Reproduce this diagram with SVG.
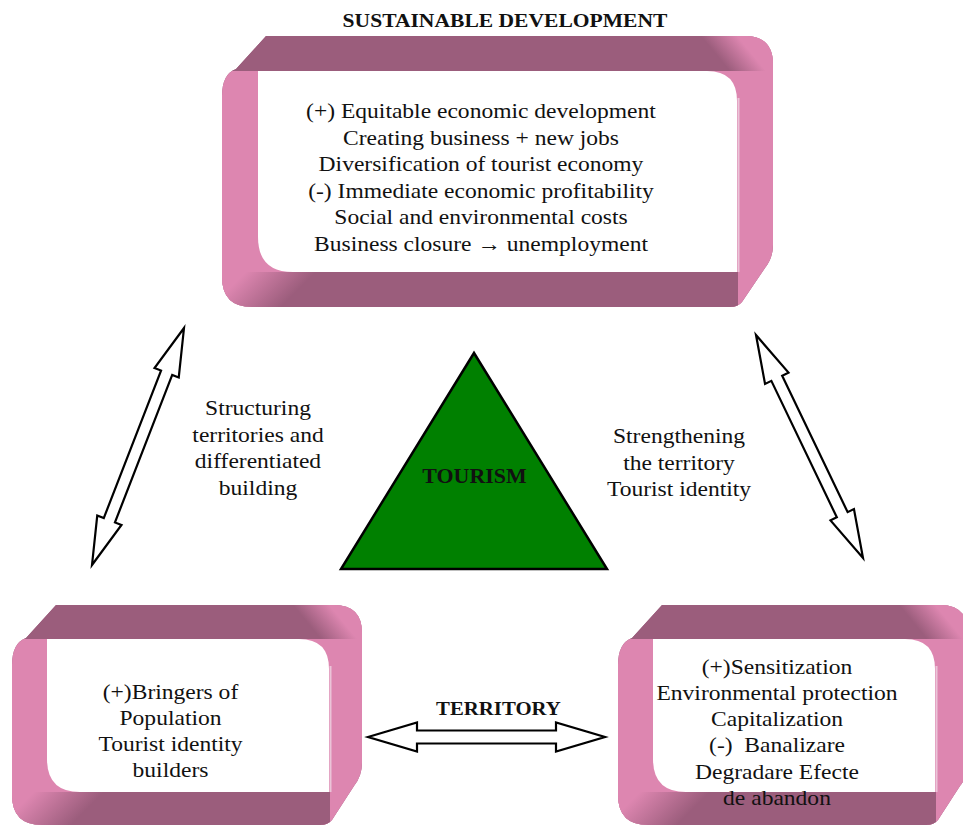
<svg xmlns="http://www.w3.org/2000/svg" width="963" height="826" viewBox="0 0 963 826">
<style>
.dark{fill:#9B5D7C}
.pink{fill:#DD86B0}
.white{fill:#FFFFFF}
.rim{stroke:#EBC4D8;stroke-width:2;fill:none}
.txt{font-family:"Liberation Serif","Times New Roman",serif;font-size:21.5px;fill:#111;text-anchor:middle}
.bold{font-weight:bold}
.arrow{fill:#FFFFFF;stroke:#000;stroke-width:2.2;stroke-linejoin:miter}
</style>
<defs>
<clipPath id="clipTop"><path d="M266,36 L745,36 Q773,36 773,64 L773,245 Q773,258 765,268 L742,302 Q738,307 730,307 L252,307 Q222,307 222,277 L222,96 Q222,74 236,69 Z"/></clipPath>
<clipPath id="clipBL"><path d="M56,605 L334,605 Q362,605 362,633 L362,763 Q362,776 354,786 L332,820 Q328,825 320,825 L42,825 Q12,825 12,795 L12,665 Q12,643 26,638 Z"/></clipPath>
<clipPath id="clipBR"><path d="M662,605 L940,605 Q968,605 968,633 L968,763 Q968,776 960,786 L938,820 Q934,825 926,825 L648,825 Q618,825 618,795 L618,665 Q618,643 632,638 Z"/></clipPath>
<linearGradient id="gtTop" gradientUnits="userSpaceOnUse" x1="722.65" y1="62.4" x2="744.35" y2="44.6"><stop offset="0" stop-color="#9B5D7C"/><stop offset="1" stop-color="#DD86B0"/></linearGradient>
<linearGradient id="gbTop" gradientUnits="userSpaceOnUse" x1="245" y1="273" x2="280" y2="308"><stop offset="0" stop-color="#DD86B0"/><stop offset="1" stop-color="#9B5D7C"/></linearGradient>
<linearGradient id="gtBL" gradientUnits="userSpaceOnUse" x1="314.65" y1="631.4" x2="336.35" y2="613.6"><stop offset="0" stop-color="#9B5D7C"/><stop offset="1" stop-color="#DD86B0"/></linearGradient>
<linearGradient id="gbBL" gradientUnits="userSpaceOnUse" x1="35" y1="791" x2="70" y2="826"><stop offset="0" stop-color="#DD86B0"/><stop offset="1" stop-color="#9B5D7C"/></linearGradient>
<linearGradient id="gtBR" gradientUnits="userSpaceOnUse" x1="920.65" y1="631.4" x2="942.35" y2="613.6"><stop offset="0" stop-color="#9B5D7C"/><stop offset="1" stop-color="#DD86B0"/></linearGradient>
<linearGradient id="gbBR" gradientUnits="userSpaceOnUse" x1="641" y1="791" x2="676" y2="826"><stop offset="0" stop-color="#DD86B0"/><stop offset="1" stop-color="#9B5D7C"/></linearGradient>
</defs>
<rect x="0" y="0" width="963" height="826" fill="#FFFFFF"/>

<g id="connectors">
<polygon id="arrow-left" class="arrow" points="184,328 178.75,377.45 172.22,374.92 114.96,522.42 121.49,524.95 92,565 97.25,515.55 103.78,518.08 161.04,370.58 154.51,368.05"/>
<polygon id="arrow-right" class="arrow" points="756,335 788.49,372.65 782.18,375.68 847.64,512.12 853.95,509.09 863,558 830.51,520.35 836.82,517.32 771.36,380.88 765.05,383.91"/>
<polygon id="arrow-bottom" class="arrow" points="368,737 417,722.5 417,730.5 556,730.5 556,722.5 605,737 556,751.5 556,743.5 417,743.5 417,751.5"/>
<g transform="scale(1.095 1)">
<text class="txt" x="235.62" y="415">Structuring</text>
<text class="txt" x="235.62" y="442">territories and</text>
<text class="txt" x="235.62" y="468">differentiated</text>
<text class="txt" x="235.62" y="495">building</text>
<text class="txt" x="620.09" y="443">Strengthening</text>
<text class="txt" x="620.09" y="470">the territory</text>
<text class="txt" x="620.09" y="496">Tourist identity</text>
<text class="txt bold" x="455.25" y="715" style="font-size:19px">TERRITORY</text>
</g>
</g>

<g id="node-sustainable">
<g clip-path="url(#clipTop)">
<rect class="dark" x="222" y="36" width="551" height="271"/>
<rect class="pink" x="222" y="71" width="70" height="236"/>
<rect class="pink" x="700" y="36" width="73" height="271"/>
<rect x="222" y="36" width="551" height="35" fill="url(#gtTop)"/>
<rect x="222" y="272" width="516" height="35" fill="url(#gbTop)"/>
</g>
<path class="white" d="M258,71 L707,71 Q737,71 737,101 L737,272 L293,272 Q258,272 258,237 Z"/>
<line class="rim" x1="738.5" y1="98" x2="738.5" y2="272"/>
<g transform="scale(1.095 1)">
<text class="txt bold" x="461.19" y="27" style="font-size:19.7px">SUSTAINABLE DEVELOPMENT</text>
<text class="txt" x="439.27" y="118">(+) Equitable economic development</text>
<text class="txt" x="439.27" y="144.6">Creating business + new jobs</text>
<text class="txt" x="439.27" y="171.2">Diversification of tourist economy</text>
<text class="txt" x="439.27" y="197.8">(-) Immediate economic profitability</text>
<text class="txt" x="439.27" y="224.4">Social and environmental costs</text>
<text class="txt" x="439.27" y="251">Business closure → unemployment</text>
</g>
</g>

<g id="node-tourism">
<polygon points="474,353 341,569 607,569" fill="#008000" stroke="#000" stroke-width="2.5" stroke-linejoin="miter"/>
<g transform="scale(1.095 1)">
<text class="txt bold" x="433.33" y="483" style="font-size:20px">TOURISM</text>
</g>
</g>

<g id="node-population">
<g clip-path="url(#clipBL)">
<rect class="dark" x="12" y="605" width="350" height="220"/>
<rect class="pink" x="12" y="639" width="70" height="186"/>
<rect class="pink" x="295" y="605" width="67" height="220"/>
<rect x="12" y="605" width="350" height="34" fill="url(#gtBL)"/>
<rect x="12" y="792" width="318" height="33" fill="url(#gbBL)"/>
</g>
<path class="white" d="M47,639 L299,639 Q329,639 329,669 L329,792 L80,792 Q47,792 47,759 Z"/>
<line class="rim" x1="330.5" y1="666" x2="330.5" y2="792"/>
<g transform="scale(1.095 1)">
<text class="txt" x="155.71" y="699">(+)Bringers of</text>
<text class="txt" x="155.71" y="725">Population</text>
<text class="txt" x="155.71" y="751.5">Tourist identity</text>
<text class="txt" x="155.71" y="777.5">builders</text>
</g>
</g>

<g id="node-environment">
<g clip-path="url(#clipBR)">
<rect class="dark" x="618" y="605" width="350" height="220"/>
<rect class="pink" x="618" y="639" width="70" height="186"/>
<rect class="pink" x="901" y="605" width="67" height="220"/>
<rect x="618" y="605" width="350" height="34" fill="url(#gtBR)"/>
<rect x="618" y="792" width="318" height="33" fill="url(#gbBR)"/>
</g>
<path class="white" d="M653,639 L905,639 Q935,639 935,669 L935,792 L686,792 Q653,792 653,759 Z"/>
<line class="rim" x1="936.5" y1="666" x2="936.5" y2="792"/>
<g transform="scale(1.095 1)">
<text class="txt" x="709.59" y="674">(+)Sensitization</text>
<text class="txt" x="709.59" y="700">Environmental protection</text>
<text class="txt" x="709.59" y="726">Capitalization</text>
<text class="txt" x="709.59" y="752.5" xml:space="preserve">(-)  Banalizare</text>
<text class="txt" x="709.59" y="779">Degradare Efecte</text>
<text class="txt" x="709.59" y="805">de abandon</text>
</g>
</g>
</svg>
